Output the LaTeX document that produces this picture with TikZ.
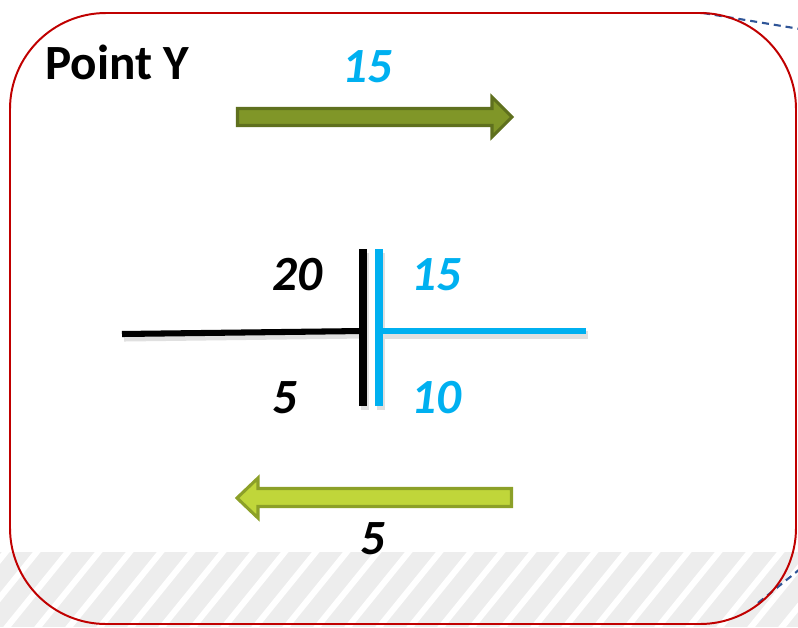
\documentclass[tikz,border=0pt]{standalone}
\usepackage{fontspec}
\setmainfont{Carlito}
\definecolor{ptred}{HTML}{C00000}
\definecolor{ptblue}{HTML}{00B0F0}
\definecolor{dashblue}{HTML}{2F5597}
\definecolor{olivefill}{RGB}{128,150,40}
\definecolor{olivedraw}{RGB}{95,112,30}
\definecolor{limefill}{RGB}{192,214,58}
\definecolor{limedraw}{RGB}{140,160,40}
\tikzset{
    num/.style={font=\fontsize{35}{40}\selectfont\bfseries\itshape},
    stripe/.style={white,line width=4.3pt},
    shadowline/.style={black!12,line width=5pt},
}
\begin{document}
\begin{tikzpicture}[x=0.025cm,y=-0.025cm]
        \def\R{2.4cm}   %frame corner radius
        \def\T{5pt}     %bar thickness
        \useasboundingbox (0,0) rectangle (798,627);
        % hatched strip
        \begin{scope}
            \clip (0,552) rectangle (798,627);
            \fill[black!7] (0,552) rectangle (798,627);
            \foreach \x in {-90,-59,...,840}
                \draw[stripe] (\x,632) -- ++(68,-84);
        \end{scope}
        % dashed leaders
        \coordinate (tr1) at (703,13);
        \coordinate (tr2) at (800,29);
        \coordinate (br1) at (758,603);
        \coordinate (br2) at (800,569);
        \draw[dashblue,line width=1.5pt,dash pattern=on 5pt off 3.5pt] (tr1) -- (tr2);
        \draw[dashblue,line width=1.5pt,dash pattern=on 5pt off 3.5pt] (br1) -- (br2);
        % frame
        \draw[ptred,line width=1.4pt,rounded corners=\R] (10,13) rectangle (796,624);
        \node[font=\fontsize{35}{40}\selectfont\bfseries,anchor=west,inner sep=0] (pt) at (45,62) {Point Y};
        % arrows
        \draw[olivedraw,fill=olivefill,line width=2.2pt] (237.5,108.5) -- (492,108.5) -- (492,97) -- (512,117) -- (492,137) -- (492,125.5) -- (237.5,125.5) -- cycle;
        \draw[limedraw,fill=limefill,line width=2.2pt] (511.5,488.5) -- (258,488.5) -- (258,478) -- (237,498) -- (258,518) -- (258,506.5) -- (511.5,506.5) -- cycle;
        \node[num,ptblue] (t15) at (367,67) {15};
        \node[num] (b5) at (373,539) {5};
        % the joint
        \coordinate (bl) at (122,334);
        \coordinate (bj) at (363,331);
        \coordinate (bt) at (363,249);
        \coordinate (bb) at (363,406);
        \coordinate (ut) at (379,249);
        \coordinate (ub) at (379,406);
        \coordinate (uj) at (379,331);
        \coordinate (ur) at (586,331);
        \draw[shadowline] ([shift={(2,4)}]bl) -- ([shift={(2,4)}]bj);
        \draw[shadowline] ([shift={(2,4)}]uj) -- ([shift={(2,4)}]ur);
        \draw[shadowline] ([shift={(2,4)}]bt) -- ([shift={(2,4)}]bb);
        \draw[shadowline] ([shift={(2,4)}]ut) -- ([shift={(2,4)}]ub);
        \draw[black,line width=4.3pt] (bl) -- (bj);
        \draw[ptblue,line width=4.6pt] (uj) -- (ur);
        \draw[black,line width=\T] (bt) -- (bb);
        \draw[ptblue,line width=\T] (ut) -- (ub);
        \node[num] (l20) at (297,275) {20};
        \node[num,ptblue] (r15) at (436,275) {15};
        \node[num] (l5) at (285,398) {5};
        \node[num,ptblue] (r10) at (436,398) {10};
    \end{tikzpicture}
\end{document}
